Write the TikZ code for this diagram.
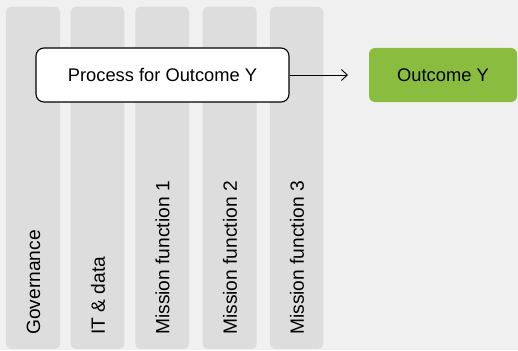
\documentclass[tikz,border=0pt]{standalone}
\usepackage{fontspec}
\setmainfont{Liberation Sans}
\usetikzlibrary{arrows.meta}
\definecolor{bg}{HTML}{F0F0F0}
\definecolor{col}{HTML}{DDDDDD}
\definecolor{grn}{HTML}{8ABD3F}
\begin{document}
\begin{tikzpicture}[x=1pt,y=-1pt,
  colbox/.style={fill=col,draw=none,rounded corners=5pt},
  collabel/.style={rotate=90,anchor=west,inner sep=0pt,font=\fontsize{19.2}{21}\selectfont},
  procbox/.style={draw=black,line width=1.1pt,fill=white,rounded corners=8pt,minimum width=253pt,minimum height=54pt,inner sep=0pt,font=\fontsize{18.3}{20}\selectfont},
  outbox/.style={fill=grn,draw=none,rounded corners=6pt,minimum width=148pt,minimum height=54pt,inner sep=0pt,font=\fontsize{18.3}{20}\selectfont}]
\fill[bg] (0,0) rectangle (518,350);
\useasboundingbox (0,0) rectangle (518,350);
\foreach \l/\r/\n in {6/60/c1,70.7/124.3/c2,135.3/189/c3,202.7/256.7/c4,270/323.3/c5}{
  \fill[colbox] (\l,6.7) rectangle (\r,349);
}
\node[collabel] (g) at (33.5,335) {Governance};
\node[collabel] (it) at (98,335) {IT \& data};
\node[collabel] (m1) at (162.5,335) {Mission function 1};
\node[collabel] (m2) at (230,335) {Mission function 2};
\node[collabel] (m3) at (297,335) {Mission function 3};
\node[procbox] (p) at (162.5,75) {Process for Outcome Y};
\node[outbox] (o) at (443,75) {Outcome Y};
\coordinate (ae) at (348,75);
\draw[-{Straight Barb[length=6pt,width=11pt]},line width=0.9pt] (p.east) -- (ae);
\end{tikzpicture}
\end{document}
